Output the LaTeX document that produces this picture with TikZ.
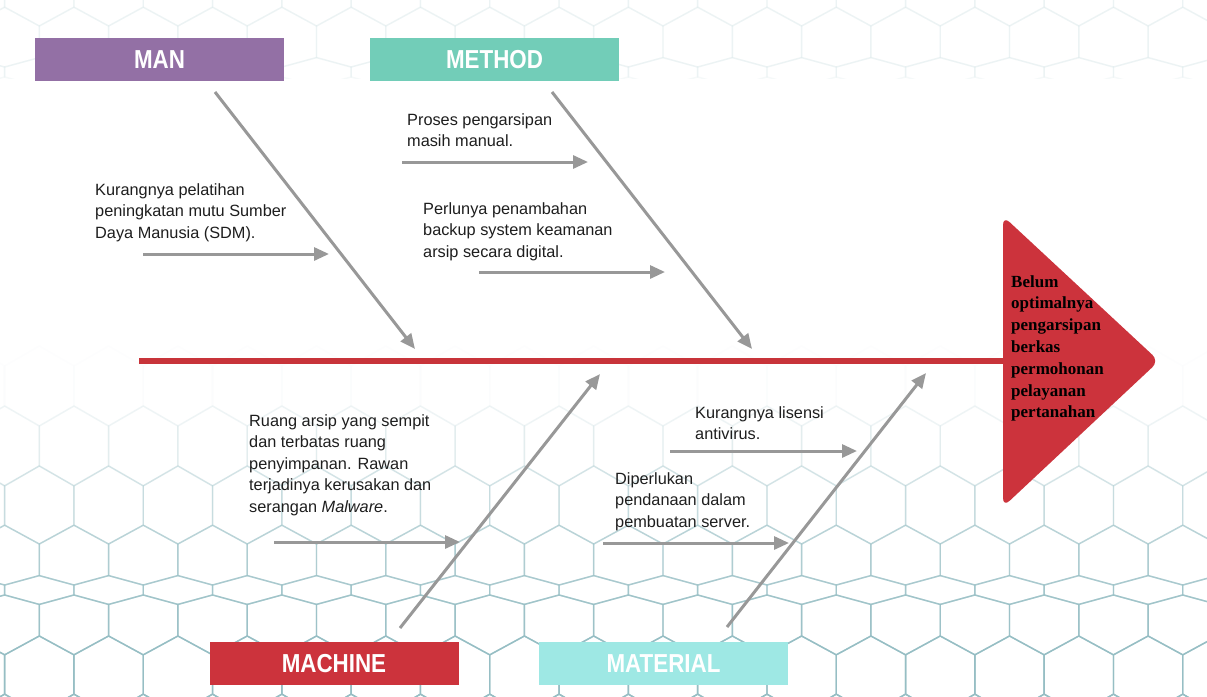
\documentclass[tikz,border=0pt]{standalone}
\usepackage{fontspec}
\usepackage{graphicx}
\usepackage{xcolor}
\setmainfont{Liberation Sans}
\newfontfamily\headserif{Liberation Serif}
\usetikzlibrary{arrows.meta}

\definecolor{manpurple}{RGB}{147,112,165}
\definecolor{methodteal}{RGB}{114,205,184}
\definecolor{machinered}{RGB}{204,51,60}
\definecolor{materialcyan}{RGB}{158,232,228}
\definecolor{spinered}{RGB}{200,52,58}
\definecolor{bonegray}{RGB}{152,152,152}
\definecolor{meshblue}{RGB}{150,190,196}
\definecolor{textgray}{RGB}{30,30,30}

% one point of the hexagon mesh, squeezed around a band row
\newcommand\meshpt[4]{%
  \pgfmathsetmacro\meshX{#2}%
  \pgfmathsetmacro\meshY{#4+(#3)-36*tanh((#3)/45)}%
  \coordinate (#1) at (\meshX,\meshY);}

\newcommand\catlabel[1]{\scalebox{0.86}[1]{#1}}

\tikzset{
  catbox/.style={minimum width=249pt, minimum height=43pt, inner sep=0pt,
    text=white, font=\fontsize{26}{26}\selectfont\bfseries},
  bone/.style={line width=3pt, draw=bonegray, -{Triangle[length=15pt,width=13pt]}},
  cause/.style={anchor=north west, align=left, inner sep=0pt, text=textgray,
    font=\fontsize{16.3}{21.5}\selectfont},
  spine/.style={line width=6pt, draw=spinered},
  hexline/.style={line width=1.4pt, draw=meshblue, line join=round},
}

\begin{document}
\begin{tikzpicture}[x=1pt, y=-1pt]
\fill[white] (0,0) rectangle (1207,696);
\useasboundingbox (0,0) rectangle (1207,696);

% background mesh
\begin{scope}
  \clip (0,0) rectangle (1207,696);
  % floor, fading out towards the spine
  \foreach \i in {-5,...,3}{
    \foreach \j in {0,...,18}{
      \pgfmathsetmacro\cu{\j*69.3+mod(\i+10,2)*34.65-30}
      \pgfmathsetmacro\cv{\i*60}
      \pgfmathsetmacro\cY{590+\cv-36*tanh(\cv/45)}
      \pgfmathsetmacro\hop{max(0,min(1,(\cY-370)/310))^1.4}
      \foreach \k in {0,...,5}{
        \meshpt{m\k}{\cu+40*cos(30+60*\k)}{\cv+40*sin(30+60*\k)}{590}
      }
      \draw[hexline, draw opacity=\hop] (m0)--(m1)--(m2)--(m3)--(m4)--(m5)--cycle;
    }
  }
\end{scope}
\begin{scope}
  \clip (0,0) rectangle (1207,78);
  % ceiling, very faint
  \foreach \i in {-3,...,0}{
    \foreach \j in {0,...,18}{
      \pgfmathsetmacro\cu{\j*69.3+mod(\i+10,2)*34.65-30}
      \pgfmathsetmacro\cv{\i*60}
      \foreach \k in {0,...,5}{
        \meshpt{m\k}{\cu+40*cos(30+60*\k)}{\cv+40*sin(30+60*\k)}{72}
      }
      \draw[hexline, draw opacity=0.09] (m0)--(m1)--(m2)--(m3)--(m4)--(m5)--cycle;
    }
  }
\end{scope}

% Define spine points
\coordinate (tail) at (139,361);      % left end of spine
\coordinate (headbase) at (1003,361); % spine meets head

% Define bone ends
\coordinate (manTop) at (215,92);
\coordinate (manTip) at (415,349);
\coordinate (methodTop) at (552,92);
\coordinate (methodTip) at (752,349);
\coordinate (machineBot) at (400,628);
\coordinate (machineTip) at (600,374);
\coordinate (materialBot) at (727,627);
\coordinate (materialTip) at (926,373);

% Define small cause arrows
\coordinate (manA) at (143,254);      \coordinate (manB) at (329,254);
\coordinate (methodA) at (402,162);   \coordinate (methodB) at (588,162);
\coordinate (methodC) at (479,272);   \coordinate (methodD) at (665,272);
\coordinate (machineA) at (274,542);  \coordinate (machineB) at (460,542);
\coordinate (materialA) at (670,451); \coordinate (materialB) at (857,451);
\coordinate (materialC) at (603,543); \coordinate (materialD) at (789,543);

% Draw spine and head
\draw[spine] (tail) -- (headbase);
\fill[machinered, rounded corners=9pt] (1003,216) -- (1159,361) -- (1003,507) -- cycle;
\node[anchor=north west, align=left, inner sep=0pt, text=black,
  font=\headserif\bfseries\fontsize{17}{21.8}\selectfont] (effect) at (1011,275)
  {Belum\\optimalnya\\pengarsipan\\berkas\\permohonan\\pelayanan\\pertanahan};

% Draw category boxes
\node[catbox, fill=manpurple] (man) at (159.5,59.5) {\catlabel{MAN}};
\node[catbox, fill=methodteal] (method) at (494.5,59.5) {\catlabel{METHOD}};
\node[catbox, fill=machinered] (machine) at (334,663.5) {\catlabel{MACHINE}};
\node[catbox, fill=materialcyan] (material) at (663.5,663.5) {\catlabel{MATERIAL}};

% Draw main bones
\draw[bone] (manTop) -- (manTip);
\draw[bone] (methodTop) -- (methodTip);
\draw[bone] (machineBot) -- (machineTip);
\draw[bone] (materialBot) -- (materialTip);

% Draw cause arrows
\draw[bone] (manA) -- (manB);
\draw[bone] (methodA) -- (methodB);
\draw[bone] (methodC) -- (methodD);
\draw[bone] (machineA) -- (machineB);
\draw[bone] (materialA) -- (materialB);
\draw[bone] (materialC) -- (materialD);

% Cause texts
\node[cause] (manText) at (95,183)
  {Kurangnya pelatihan\\peningkatan mutu Sumber\\Daya Manusia (SDM).};
\node[cause] (methodText1) at (407,113)
  {Proses pengarsipan\\masih manual.};
\node[cause] (methodText2) at (423,202)
  {Perlunya penambahan\\backup system keamanan\\arsip secara digital.};
\node[cause] (machineText) at (249,414)
  {Ruang arsip yang sempit\\dan terbatas ruang\\penyimpanan. Rawan\\terjadinya kerusakan dan\\serangan \textit{Malware}.};
\node[cause] (materialText1) at (695,406)
  {Kurangnya lisensi\\antivirus.};
\node[cause] (materialText2) at (615,472)
  {Diperlukan\\pendanaan dalam\\pembuatan server.};
\end{tikzpicture}
\end{document}
